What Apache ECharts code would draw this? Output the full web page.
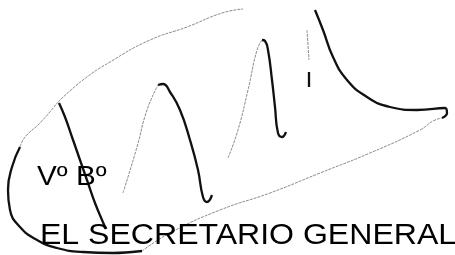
<!DOCTYPE html>
<html lang="es">

<head>
    <meta charset="UTF-8">
    <title>Vº Bº</title>
    <script src="https://cdn.jsdelivr.net/npm/echarts@6/dist/echarts.min.js"></script>
    <style>
        html, body { margin: 0; padding: 0; background: #fff; }
        #chart { width: 455px; height: 255px; }
    </style>
</head>

<body>
    <div id="chart"></div>

    <script>
        // trazos de la firma, en coordenadas de la imagen (x a la derecha, y hacia abajo)
        var arcTop = [[58, 102], [83, 80], [110, 62], [150, 40], [187, 27], [222, 13], [243, 9]];
        var loopLeftLight = [[58, 102], [40, 123], [25, 137], [20, 147]];
        var loopLeftDark = [[20, 147], [12, 167], [8, 190], [10, 210], [20, 227], [37, 240], [57, 248], [83, 252], [113, 253], [132, 252], [142, 251]];
        var loopReturn = [[142, 251], [170, 233], [220, 210], [270, 193], [320, 173], [370, 153], [420, 130], [433, 121], [442, 118]];
        var firstDown = [[59, 103], [65, 117], [72, 137], [80, 160], [88, 183], [95, 203], [102, 220], [106, 229]];
        var peak1Rise = [[123, 193], [137, 147], [147, 110], [158, 85]];
        var peak1Down = [[158, 85], [163, 84], [170, 92], [180, 110], [190, 140], [198, 170], [203, 197], [207, 202], [212, 195]];
        var peak2Rise = [[228, 158], [238, 130], [248, 90], [257, 50], [262, 40]];
        var peak2Down = [[262, 40], [265, 41], [268, 50], [272, 80], [275, 107], [278, 133], [282, 137], [286, 132]];
        var tickLight = [[307, 30], [308, 45], [309, 60]];
        var tickDark = [[309, 72], [309, 80], [309, 87]];
        var rightCurve = [[315, 10], [323, 30], [333, 57], [347, 80], [367, 97], [390, 107], [417, 110], [445, 108], [447, 113], [442, 118]];

        var darkStrokes = [loopLeftDark, firstDown, peak1Down, peak2Down, tickDark, rightCurve];
        var lightStrokes = [arcTop, loopLeftLight, loopReturn, peak1Rise, peak2Rise, tickLight];

        var line1 = 'Vº Bº';
        var line2 = 'EL SECRETARIO GENERAL';

        var series = [];
        lightStrokes.forEach(function (d) {
            series.push({
                type: 'line', data: d, smooth: true, symbol: 'none', silent: true,
                lineStyle: { color: '#8c8c8c', width: 1, type: [3, 1] }
            });
        });
        darkStrokes.forEach(function (d) {
            series.push({
                type: 'line', data: d, smooth: true, symbol: 'none', silent: true,
                lineStyle: { color: '#111', width: 2.3 }
            });
        });

        var myChart = echarts.init(document.getElementById('chart'));
        myChart.setOption({
            animation: false,
            backgroundColor: '#fff',
            grid: { left: 0, right: 0, top: 0, bottom: 0 },
            xAxis: { type: 'value', min: 0, max: 455, show: false },
            yAxis: { type: 'value', min: 0, max: 255, inverse: true, show: false },
            series: series,
            graphic: [
                {
                    type: 'text', x: 37, y: 178, scaleX: 1.1, z: 10,
                    style: { text: line1, fill: '#000', font: '27px "Liberation Sans"', verticalAlign: 'middle' }
                },
                {
                    type: 'text', x: 40, y: 236, scaleX: 1.105, z: 10,
                    style: { text: line2, fill: '#000', font: '29px "Liberation Sans"', verticalAlign: 'middle' }
                }
            ]
        });
    </script>
</body>

</html>
